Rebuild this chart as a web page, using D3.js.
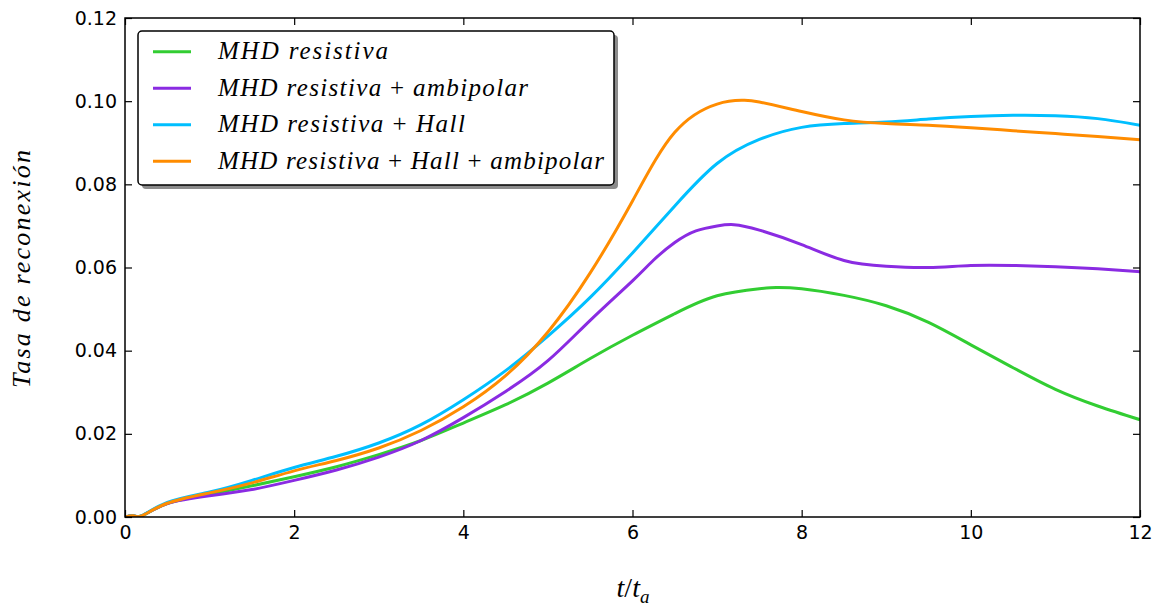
<!DOCTYPE html>
<html>
<head>
<meta charset="utf-8">
<script src="https://cdn.jsdelivr.net/npm/d3@7"></script>
<style>
  html, body { margin: 0; padding: 0; background: #fff; }
  svg { display: block; }
  svg text.math { font-family: "Liberation Serif", "DejaVu Serif", serif; font-style: italic; }
</style>
</head>
<body>
<svg id="chart" width="1158" height="613"></svg>
<script>
// Reconnection rate vs. normalised time for four MHD models
const xTicks = [0, 2, 4, 6, 8, 10, 12];
const yTicks = [0.00, 0.02, 0.04, 0.06, 0.08, 0.10, 0.12];

const seriesNames = [
  ["MHD resistiva"],
  ["MHD resistiva", "ambipolar"],
  ["MHD resistiva", "Hall"],
  ["MHD resistiva", "Hall", "ambipolar"]
];
const seriesColors = ["#32cd32", "#8a2be2", "#00bfff", "#ff8c00"];

const tResistiva = [0, 0.1, 0.2, 0.5, 1, 1.5, 2, 2.5, 3, 3.5, 4, 4.5, 5, 5.5, 6, 6.5, 7, 7.5, 7.7, 8, 8.5, 9, 9.5, 10, 10.5, 11, 11.5, 12];
const rResistiva = [0, 0.0003, 0.0003, 0.0032, 0.0055, 0.0075, 0.0097, 0.0121, 0.0150, 0.0184, 0.0226, 0.0270, 0.0322, 0.0381, 0.0437, 0.0489, 0.0532, 0.0549, 0.0552, 0.0549, 0.0533, 0.0508, 0.0468, 0.0414, 0.0359, 0.0307, 0.0267, 0.0234];

const tAmbipolar = [0, 0.1, 0.2, 0.5, 1, 1.5, 2, 2.5, 3, 3.5, 4, 4.5, 5, 5.5, 6, 6.25, 6.5, 6.75, 7, 7.2, 7.5, 8, 8.5, 9, 9.5, 10, 10.5, 11, 11.5, 12];
const rAmbipolar = [0, 0.0003, 0.0003, 0.0032, 0.0051, 0.0066, 0.0088, 0.0113, 0.0144, 0.0184, 0.0239, 0.0302, 0.0376, 0.0473, 0.0568, 0.0618, 0.0660, 0.0688, 0.0700, 0.0703, 0.0690, 0.0655, 0.0617, 0.0603, 0.0600, 0.0605, 0.0605, 0.0602, 0.0597, 0.0590];

const tHall = [0, 0.1, 0.2, 0.5, 1, 1.5, 2, 2.5, 3, 3.5, 4, 4.5, 5, 5.5, 6, 6.5, 7, 7.5, 8, 8.5, 9, 9.5, 10, 10.5, 11, 11.5, 12];
const rHall = [0, 0.0003, 0.0003, 0.0035, 0.0060, 0.0088, 0.0119, 0.0146, 0.0178, 0.0222, 0.0282, 0.0352, 0.0435, 0.0528, 0.0635, 0.0748, 0.0850, 0.0908, 0.0937, 0.0946, 0.0950, 0.0957, 0.0963, 0.0966, 0.0965, 0.0958, 0.0942];

const tHallAmbipolar = [0, 0.1, 0.2, 0.5, 1, 1.5, 2, 2.5, 3, 3.5, 4, 4.5, 5, 5.5, 6, 6.5, 7, 7.3, 7.5, 8, 8.5, 9, 9.5, 10, 10.5, 11, 11.5, 12];
const rHallAmbipolar = [0, 0.0003, 0.0003, 0.0033, 0.0058, 0.0082, 0.0111, 0.0136, 0.0166, 0.0208, 0.0265, 0.0340, 0.0445, 0.0587, 0.0760, 0.0925, 0.0993, 0.1002, 0.0998, 0.0975, 0.0955, 0.0946, 0.0942, 0.0936, 0.0929, 0.0922, 0.0915, 0.0907];

const seriesT = [tResistiva, tAmbipolar, tHall, tHallAmbipolar];
const seriesR = [rResistiva, rAmbipolar, rHall, rHallAmbipolar];

const svg = d3.select("#chart");
const plotLeft = 125, plotRight = 1140, plotTop = 18, plotBottom = 517;

const x = d3.scaleLinear().domain([0, 12]).range([plotLeft, plotRight]);
const y = d3.scaleLinear().domain([0, 0.12]).range([plotBottom, plotTop]);

svg.append("defs").append("clipPath").attr("id", "plotClip")
  .append("rect").attr("x", plotLeft).attr("y", plotTop)
  .attr("width", plotRight - plotLeft).attr("height", plotBottom - plotTop);

// curves
const line = d3.line()
  .x(d => x(d[0])).y(d => y(d[1]))
  .curve(d3.curveNatural);

const curves = svg.append("g").attr("clip-path", "url(#plotClip)");
seriesT.forEach((ts, i) => {
  const pts = ts.map((t, j) => [t, seriesR[i][j]]);
  curves.append("path")
    .datum(pts)
    .attr("d", line)
    .attr("fill", "none")
    .attr("stroke", seriesColors[i])
    .attr("stroke-width", 3)
    .attr("stroke-linejoin", "round");
});

// axes with inward ticks, mirrored on top and right
const tick = 7;
svg.append("g").attr("transform", `translate(0,${plotBottom})`)
  .call(d3.axisBottom(x).tickValues(xTicks).tickFormat(d3.format("d"))
    .tickSizeInner(-tick).tickSizeOuter(0).tickPadding(9));
svg.append("g").attr("transform", `translate(${plotLeft},0)`)
  .call(d3.axisLeft(y).tickValues(yTicks).tickFormat(d3.format(".2f"))
    .tickSizeInner(-tick).tickSizeOuter(0).tickPadding(8));
svg.append("g").attr("transform", `translate(0,${plotTop})`)
  .call(d3.axisTop(x).tickValues(xTicks).tickFormat("")
    .tickSizeInner(-tick).tickSizeOuter(0));
svg.append("g").attr("transform", `translate(${plotRight},0)`)
  .call(d3.axisRight(y).tickValues(yTicks).tickFormat("")
    .tickSizeInner(-tick).tickSizeOuter(0));
svg.selectAll(".domain").remove();
svg.selectAll(".tick line").attr("stroke", "#000").attr("stroke-width", 1.2);
svg.selectAll(".tick text")
  .attr("font-family", "DejaVu Sans, sans-serif").attr("font-size", 19).attr("fill", "#000");

svg.append("rect")
  .attr("x", plotLeft).attr("y", plotTop)
  .attr("width", plotRight - plotLeft).attr("height", plotBottom - plotTop)
  .attr("fill", "none").attr("stroke", "#000").attr("stroke-width", 1.5);

// legend
const lg = svg.append("g");
const lgX = 138, lgY = 31, lgW = 476, lgH = 154;
lg.append("rect")
  .attr("x", lgX + 4).attr("y", lgY + 4).attr("width", lgW).attr("height", lgH)
  .attr("rx", 4).attr("fill", "#8c8c8c");
lg.append("rect")
  .attr("x", lgX).attr("y", lgY).attr("width", lgW).attr("height", lgH)
  .attr("rx", 4).attr("fill", "#fff").attr("stroke", "#000").attr("stroke-width", 1.5);

const rowBase = [59.3, 95.8, 132.3, 168.8];
const rowWidth = [170, 310, 247, 386];
seriesNames.forEach((parts, i) => {
  lg.append("line")
    .attr("x1", 153).attr("x2", 191)
    .attr("y1", rowBase[i] - 7.6).attr("y2", rowBase[i] - 7.6)
    .attr("stroke", seriesColors[i]).attr("stroke-width", 3);
  const txt = lg.append("text")
    .attr("class", "math")
    .attr("x", 218).attr("y", rowBase[i])
    .attr("font-size", 25)
    .attr("fill", "#000")
    .attr("textLength", rowWidth[i])
    .attr("lengthAdjust", "spacing");
  parts.forEach((p, k) => {
    if (k > 0) txt.append("tspan").style("font-style", "normal").text(" + ");
    txt.append("tspan").text(p);
  });
});

// axis titles
svg.append("text")
  .attr("class", "math")
  .attr("transform", "translate(30,269) rotate(-90)")
  .attr("text-anchor", "middle")
  .attr("font-size", 26)
  .attr("fill", "#000")
  .attr("textLength", 238)
  .attr("lengthAdjust", "spacing")
  .text("Tasa de reconexión");

const xTitle = svg.append("text")
  .attr("class", "math")
  .attr("x", 633).attr("y", 597)
  .attr("text-anchor", "middle")
  .attr("font-size", 28)
  .attr("fill", "#000");
xTitle.append("tspan").text("t");
xTitle.append("tspan").style("font-style", "normal").text("/");
xTitle.append("tspan").text("t");
xTitle.append("tspan").attr("font-size", 19).attr("dy", 6).text("a");
</script>
</body>
</html>
